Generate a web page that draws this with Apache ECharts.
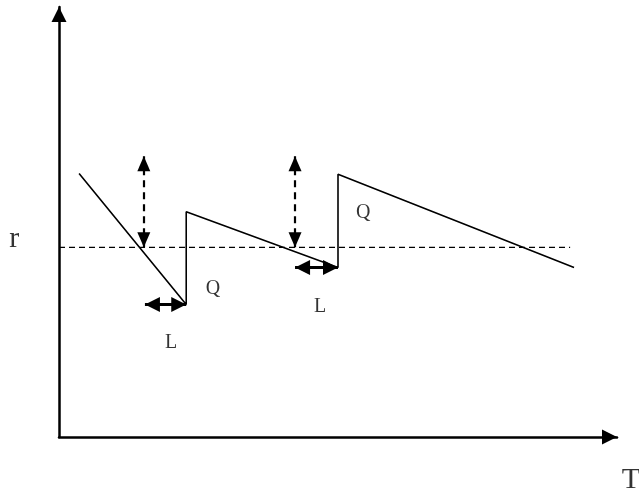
<!DOCTYPE html>
<html>
<head>
<meta charset="utf-8">
<script src="https://cdn.jsdelivr.net/npm/echarts@6/dist/echarts.min.js"></script>
<style>
html,body{margin:0;padding:0;background:#fff;}
#chart{width:639px;height:493px;}
</style>
</head>
<body>
<div id="chart"></div>
<script>
// inventory level (sawtooth)
var stockX = [3.6, 22.8, 22.8, 50.0, 50.0, 92.3];
var stockY = [61.3, 30.8, 52.4, 39.4, 61.1, 39.4];
// reorder level r
var reorderX = [0, 91.6];
var reorderY = [44.1, 44.1];
// dashed double arrows (safety stock)
var gapX = [15.2, 42.3];
var gapTop = 65.3;
var gapBottom = 44.1;
// lead time arrows L
var leadStart = [15.4, 42.3];
var leadEnd = [22.8, 50.0];
var leadY = [30.8, 39.4];
// text labels
var labelText = ['r', 'T', 'Q', 'Q', 'L', 'L'];
var labelSize = [30, 30, 20, 20, 20, 20];
var labelX = [-8.0, 102.5, 27.6, 54.5, 20.1, 46.8];
var labelY = [46.0, -10.1, 34.5, 52.2, 21.9, 30.3];

// solid triangle whose tip sits on the line end (lower half of box is empty)
var HEAD = 'path://M0,14 L7,28 L-7,28 Z M0,0';

function pairs(xs, ys){
    var out = [];
    for (var i = 0; i < xs.length; i++) out.push([xs[i], ys[i]]);
    return out;
}

var arrowLines = [];
for (var i = 0; i < gapX.length; i++) {
    arrowLines.push([{coord:[gapX[i], gapBottom]}, {coord:[gapX[i], gapTop]}]);
}
var leadLines = [];
for (var j = 0; j < leadStart.length; j++) {
    leadLines.push([{coord:[leadStart[j], leadY[j]]}, {coord:[leadEnd[j], leadY[j]]}]);
}
var labelData = [];
for (var k = 0; k < labelText.length; k++) {
    labelData.push({
        value: [labelX[k], labelY[k]],
        label: {formatter: labelText[k], fontSize: labelSize[k]}
    });
}

var myChart = echarts.init(document.getElementById('chart'));
var option = {
    animation: false,
    grid: {left: 59, right: 22, top: 7, bottom: 56},
    xAxis: {
        type: 'value', min: 0, max: 100,
        axisLine: {show: true, symbol: ['none', HEAD], symbolSize: [15, 32], lineStyle: {color: '#000', width: 2.5}},
        axisTick: {show: false}, axisLabel: {show: false}, splitLine: {show: false}
    },
    yAxis: {
        type: 'value', min: 0, max: 100,
        axisLine: {show: true, symbol: ['none', HEAD], symbolSize: [15, 32], lineStyle: {color: '#000', width: 2.5}},
        axisTick: {show: false}, axisLabel: {show: false}, splitLine: {show: false}
    },
    series: [
        {
            type: 'line',
            data: pairs(stockX, stockY),
            symbol: 'none',
            lineStyle: {color: '#000', width: 1.6}
        },
        {
            type: 'line',
            data: pairs(reorderX, reorderY),
            symbol: 'none',
            lineStyle: {color: '#000', width: 1.4, type: [6, 4]},
            markLine: {
                silent: true,
                symbol: [HEAD, HEAD],
                symbolSize: [13, 30],
                label: {show: false},
                lineStyle: {color: '#000', width: 2.2, type: [7, 5]},
                data: arrowLines
            }
        },
        {
            type: 'line',
            data: [],
            markLine: {
                silent: true,
                symbol: [HEAD, HEAD],
                symbolSize: [15, 30],
                label: {show: false},
                lineStyle: {color: '#000', width: 3, type: 'solid'},
                data: leadLines
            }
        },
        {
            type: 'scatter',
            data: labelData,
            symbolSize: 0,
            clip: false,
            silent: true,
            label: {
                show: true,
                position: 'inside',
                color: '#000',
                fontFamily: 'Liberation Serif'
            }
        }
    ]
};
myChart.setOption(option);
</script>
</body>
</html>
